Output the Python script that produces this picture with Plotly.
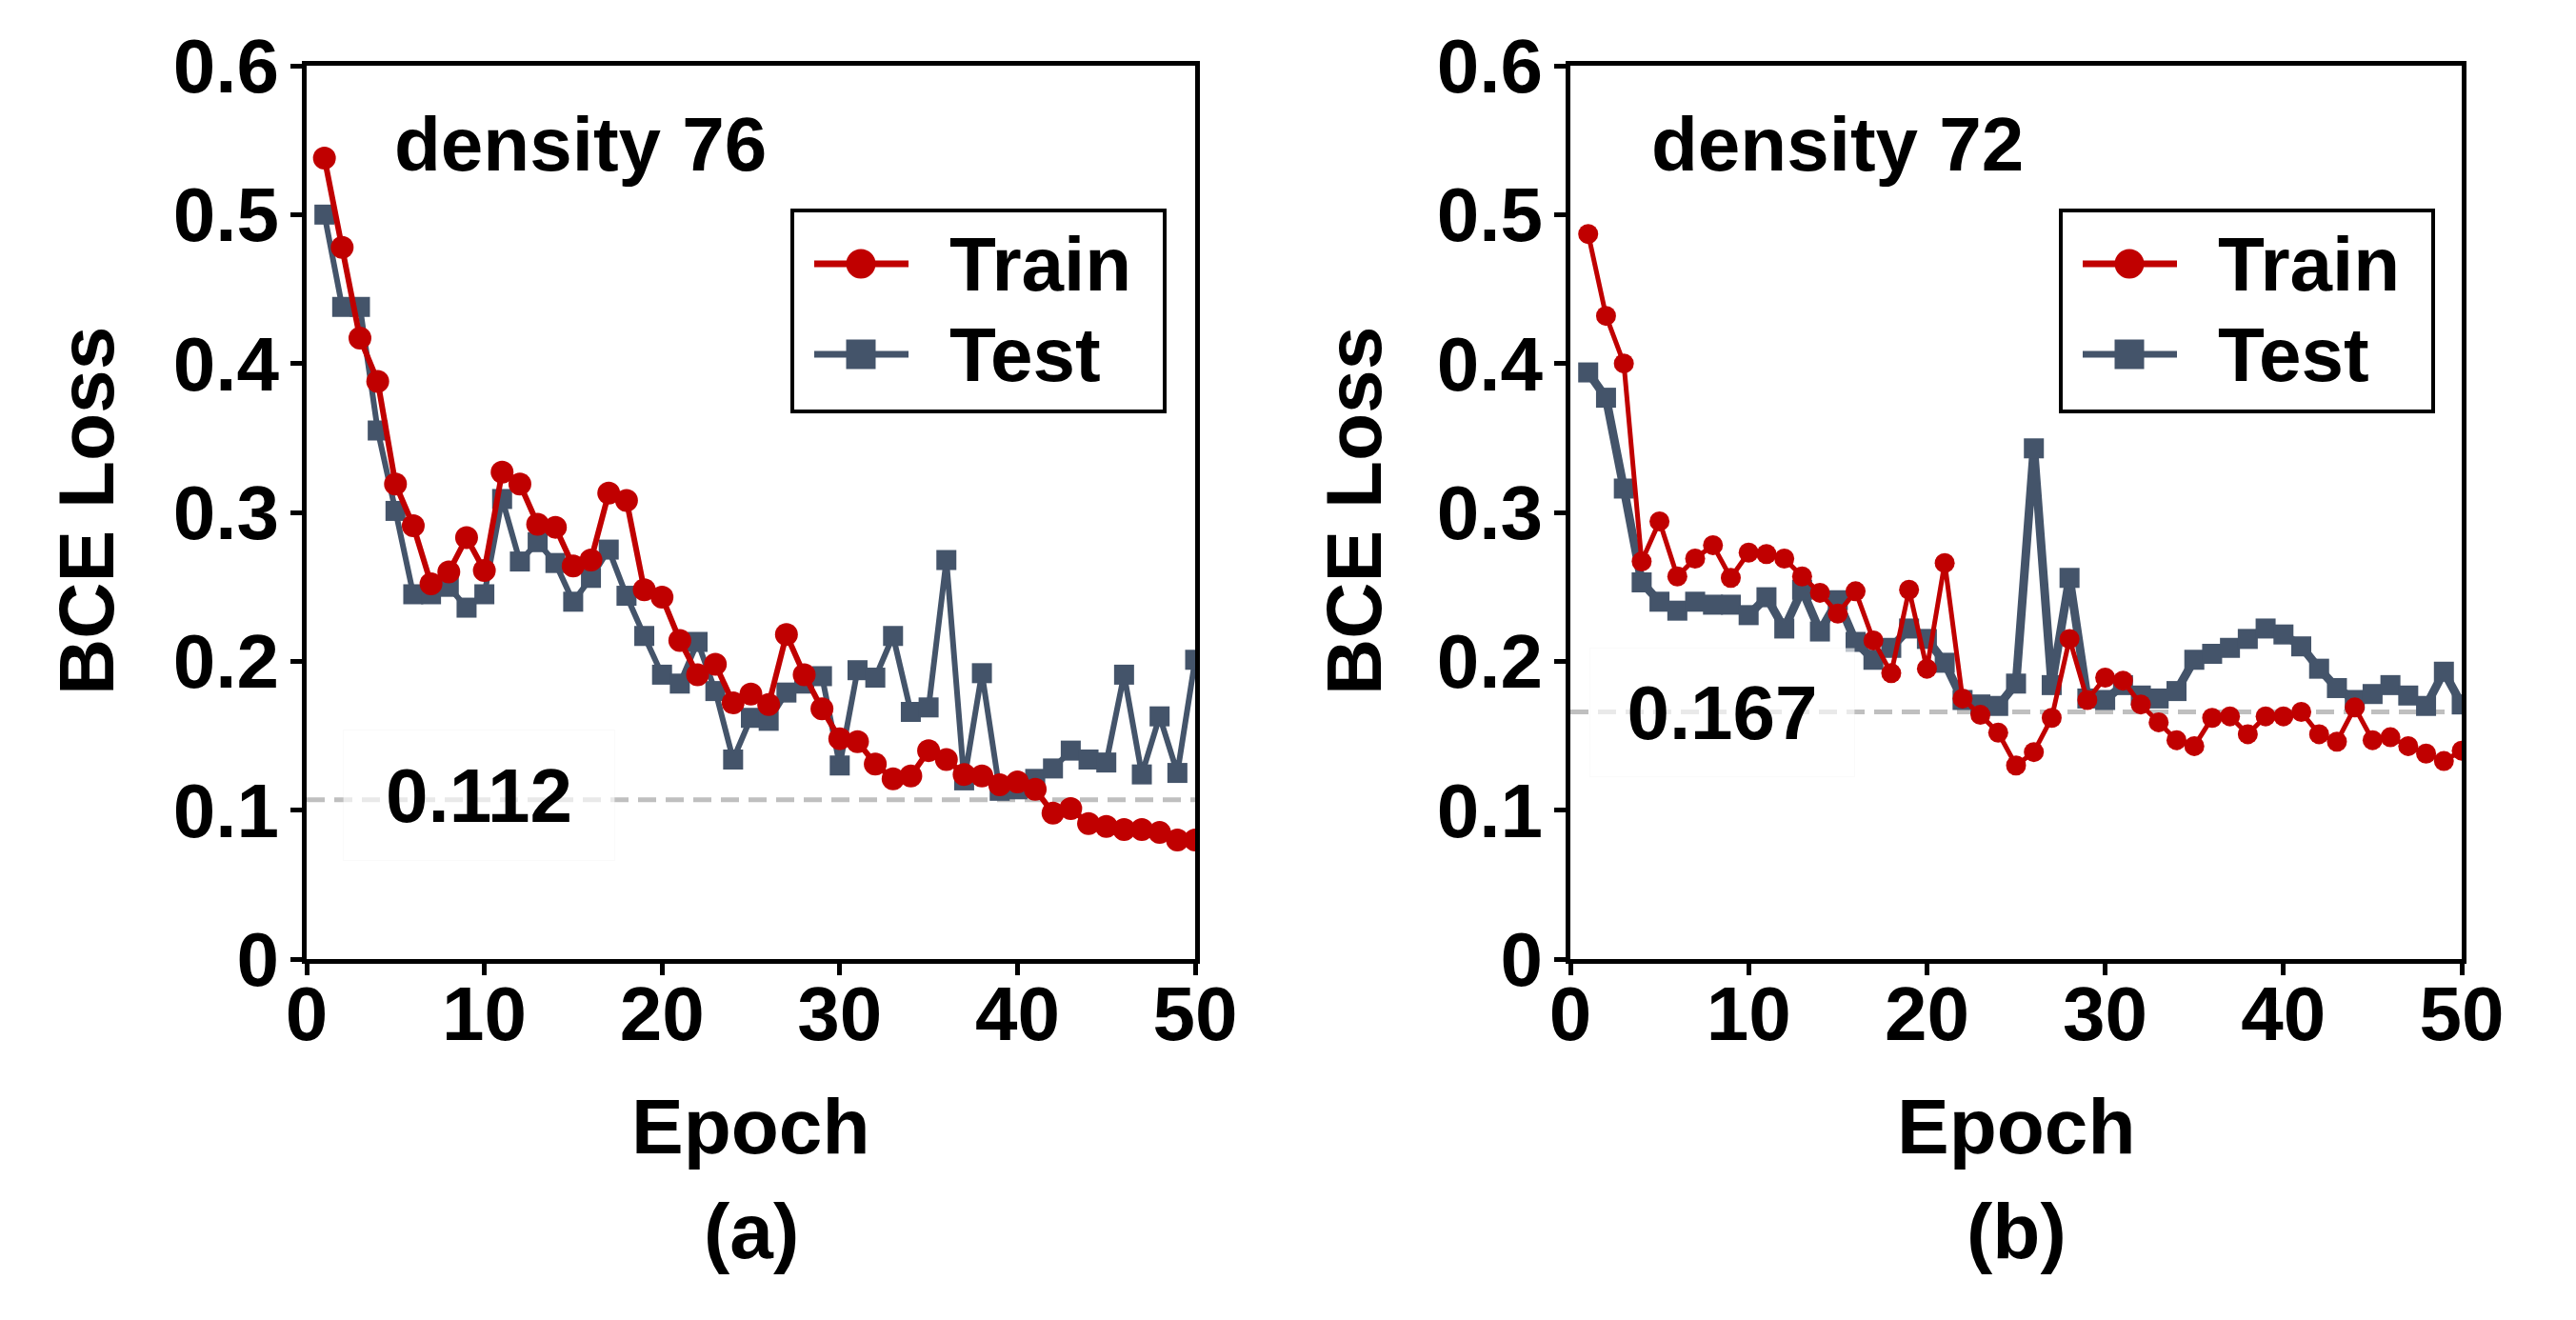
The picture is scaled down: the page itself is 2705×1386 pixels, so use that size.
import plotly.graph_objects as go

# ---------------- data ----------------
epochs = list(range(1, 51))

train_a = [0.538, 0.478, 0.417, 0.388, 0.319, 0.291, 0.252, 0.260, 0.283, 0.261,
           0.327, 0.319, 0.292, 0.290, 0.264, 0.268, 0.313, 0.308, 0.248, 0.243,
           0.214, 0.191, 0.198, 0.172, 0.178, 0.171, 0.218, 0.191, 0.168, 0.148,
           0.146, 0.131, 0.121, 0.123, 0.140, 0.134, 0.124, 0.123, 0.117, 0.119,
           0.114, 0.098, 0.101, 0.091, 0.089, 0.087, 0.087, 0.085, 0.080, 0.080]
test_a = [0.500, 0.438, 0.438, 0.355, 0.301, 0.245, 0.245, 0.250, 0.236, 0.245,
          0.309, 0.267, 0.280, 0.266, 0.240, 0.256, 0.275, 0.244, 0.217, 0.191,
          0.185, 0.213, 0.180, 0.134, 0.162, 0.160, 0.179, 0.185, 0.190, 0.130,
          0.194, 0.189, 0.217, 0.166, 0.169, 0.268, 0.120, 0.192, 0.113, 0.114,
          0.121, 0.128, 0.140, 0.134, 0.132, 0.191, 0.124, 0.163, 0.125, 0.201]

train_b = [0.487, 0.432, 0.400, 0.267, 0.294, 0.257, 0.269, 0.278, 0.256, 0.273,
           0.272, 0.269, 0.257, 0.246, 0.232, 0.247, 0.214, 0.192, 0.248, 0.195,
           0.266, 0.175, 0.164, 0.152, 0.130, 0.139, 0.162, 0.215, 0.174, 0.189,
           0.187, 0.171, 0.159, 0.147, 0.143, 0.162, 0.163, 0.151, 0.163, 0.163,
           0.166, 0.151, 0.146, 0.169, 0.147, 0.149, 0.143, 0.138, 0.133, 0.140]
test_b = [0.394, 0.377, 0.316, 0.253, 0.240, 0.234, 0.240, 0.238, 0.238, 0.231,
          0.243, 0.222, 0.248, 0.220, 0.241, 0.213, 0.201, 0.209, 0.222, 0.215,
          0.199, 0.174, 0.171, 0.170, 0.185, 0.343, 0.184, 0.256, 0.175, 0.174,
          0.184, 0.177, 0.175, 0.180, 0.201, 0.205, 0.209, 0.215, 0.222, 0.218,
          0.210, 0.195, 0.182, 0.174, 0.178, 0.184, 0.177, 0.170, 0.193, 0.171]

ref_line_a = 0.107
ref_label_a = "0.112"
ref_line_b = 0.166
ref_label_b = "0.167"

titles = ["density 76", "density 72"]
panel_labels = ["(a)", "(b)"]
series_names = ["Train", "Test"]
x_ticks = [0, 10, 20, 30, 40, 50]
y_ticks = [0, 0.1, 0.2, 0.3, 0.4, 0.5, 0.6]
y_tick_text = ["0", "0.1", "0.2", "0.3", "0.4", "0.5", "0.6"]

# ---------------- style ----------------
SCREEN_W, SCREEN_H = 2705, 1386
OFF = 8  # page body margin
W, H = SCREEN_W - 2 * OFF, SCREEN_H - 2 * OFF
RED = "#C00000"
SLATE = "#44546A"
FONT = "Liberation Sans, Arial, Helvetica, sans-serif"


def fx(p):
    return (p - OFF) / W


def fy(p):
    return 1 - (p - OFF) / H


fig = go.Figure()

panels = [
    dict(train=train_a, test=test_a, xa="x", ya="y", ref=ref_line_a, lab=ref_label_a,
         left=322, right=1255, red_w=6, red_s=24, test_w=6, test_s=21),
    dict(train=train_b, test=test_b, xa="x2", ya="y2", ref=ref_line_b, lab=ref_label_b,
         left=1649, right=2585, red_w=5, red_s=21, test_w=9, test_s=21),
]

for p in panels:
    fig.add_trace(go.Scatter(
        x=epochs, y=p["test"], xaxis=p["xa"], yaxis=p["ya"], mode="lines+markers",
        name=series_names[1], showlegend=False,
        line=dict(color=SLATE, width=p["test_w"]),
        marker=dict(symbol="square", size=p["test_s"], color=SLATE)))
    fig.add_trace(go.Scatter(
        x=epochs, y=p["train"], xaxis=p["xa"], yaxis=p["ya"], mode="lines+markers",
        name=series_names[0], showlegend=False,
        line=dict(color=RED, width=p["red_w"]),
        marker=dict(symbol="circle", size=p["red_s"], color=RED)))

axis_common = dict(
    showline=True, linecolor="black", linewidth=5, mirror=True,
    ticks="outside", ticklen=12, tickwidth=5, tickcolor="black",
    showgrid=False, zeroline=False, automargin=False,
    tickfont=dict(family=FONT, size=80, color="black", weight="bold"),
)

layout = dict(
    width=W, height=H, paper_bgcolor="white", plot_bgcolor="white",
    margin=dict(l=0, r=0, t=0, b=0, autoexpand=False), showlegend=False,
)
ydom = [fy(1007), fy(69)]
for i, p in enumerate(panels):
    sx = "" if i == 0 else "2"
    layout["xaxis" + sx] = dict(axis_common, domain=[fx(p["left"]), fx(p["right"])],
                                range=[0, 50], tickvals=x_ticks, anchor="y" + sx,
                                ticklabelstandoff=-28)
    layout["yaxis" + sx] = dict(axis_common, domain=ydom, range=[0, 0.6],
                                tickvals=y_ticks, ticktext=y_tick_text, anchor="x" + sx,
                                ticklabelstandoff=-4)
fig.update_layout(**layout)

shapes = []
annotations = []
for i, p in enumerate(panels):
    sx = "" if i == 0 else "2"
    # reference dashed line
    shapes.append(dict(type="line", xref="x" + sx, yref="y" + sx, x0=0, x1=50,
                       y0=p["ref"], y1=p["ref"], layer="below",
                       line=dict(color="#BFBFBF", width=5, dash="19px,10px")))
    # reference label with translucent box
    bx0, bx1 = (362, 644) if i == 0 else (1671, 1946)
    by0, by1 = (768, 902) if i == 0 else (682, 814)
    annotations.append(dict(
        xref="paper", yref="paper", x=fx((bx0 + bx1) / 2), y=fy((by0 + by1) / 2),
        xanchor="center", yanchor="middle", text=p["lab"], showarrow=False,
        width=bx1 - bx0, height=by1 - by0, bgcolor="rgba(255,255,255,0.65)",
        bordercolor="rgba(0,0,0,0.02)", borderwidth=1,
        font=dict(family=FONT, size=80, color="black", weight="bold")))
    # density title
    annotations.append(dict(
        xref="paper", yref="paper", x=fx(412 if i == 0 else 1732), y=fy(151),
        xanchor="left", yanchor="middle", text=titles[i], showarrow=False,
        font=dict(family=FONT, size=80, color="black", weight="bold")))
    # axis titles
    cx = (p["left"] + p["right"]) / 2
    annotations.append(dict(
        xref="paper", yref="paper", x=fx(cx), y=fy(1182), xanchor="center",
        yanchor="middle", text="Epoch", showarrow=False,
        font=dict(family=FONT, size=82, color="black", weight="bold")))
    annotations.append(dict(
        xref="paper", yref="paper", x=fx(cx), y=fy(1292), xanchor="center",
        yanchor="middle", text=panel_labels[i], showarrow=False,
        font=dict(family=FONT, size=82, color="black", weight="bold")))
    annotations.append(dict(
        xref="paper", yref="paper", x=fx(90 if i == 0 else 1421), y=fy(537),
        xanchor="center", yanchor="middle", text="BCE Loss", showarrow=False,
        textangle=-90,
        font=dict(family=FONT, size=82, color="black", weight="bold")))
    # custom legend
    lo = 0 if i == 0 else 1332
    shapes.append(dict(type="rect", xref="paper", yref="paper",
                       x0=fx(832 + lo), x1=fx(1223 + lo), y0=fy(432), y1=fy(221),
                       line=dict(color="black", width=4), fillcolor="white", layer="above"))
    for name, col, yy, sym in [(series_names[0], RED, 277, "circle"),
                               (series_names[1], SLATE, 372, "square")]:
        shapes.append(dict(type="line", xref="paper", yref="paper",
                           x0=fx(855 + lo), x1=fx(954 + lo), y0=fy(yy), y1=fy(yy),
                           line=dict(color=col, width=7), layer="above"))
        r = 15.5
        shapes.append(dict(type="circle" if sym == "circle" else "rect",
                           xref="paper", yref="paper",
                           x0=fx(904 + lo - r), x1=fx(904 + lo + r),
                           y0=fy(yy + r), y1=fy(yy - r),
                           line=dict(color=col, width=0), fillcolor=col, layer="above"))
        annotations.append(dict(
            xref="paper", yref="paper", x=fx(995 + lo), y=fy(yy), xanchor="left",
            yanchor="middle", text=name, showarrow=False,
            font=dict(family=FONT, size=80, color="black", weight="bold")))

fig.update_layout(shapes=shapes, annotations=annotations)
fig.write_html("out.html")
